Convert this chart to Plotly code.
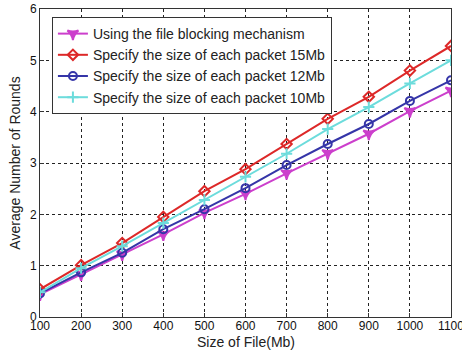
import plotly.graph_objects as go

x = [100, 200, 300, 400, 500, 600, 700, 800, 900, 1000, 1100]
blocking = [0.44, 0.83, 1.22, 1.61, 2.03, 2.40, 2.80, 3.19, 3.57, 4.01, 4.41]
pkt15 = [0.54, 1.01, 1.44, 1.95, 2.45, 2.88, 3.37, 3.86, 4.29, 4.80, 5.28]
pkt12 = [0.46, 0.87, 1.25, 1.71, 2.10, 2.51, 2.96, 3.37, 3.76, 4.21, 4.61]
pkt10 = [0.48, 0.95, 1.38, 1.83, 2.28, 2.73, 3.18, 3.66, 4.09, 4.55, 5.00]

names = ["Using the file blocking mechanism",
         "Specify the size of each packet 15Mb",
         "Specify the size of each packet 12Mb",
         "Specify the size of each packet 10Mb"]
series = [blocking, pkt15, pkt12, pkt10]
colors = ["#CC3FCC", "#DD2828", "#3535A8", "#6CDCDC"]
symbols = ["star-triangle-down", "diamond-open", "circle-open", "cross-thin-open"]

fig = go.Figure()
for n, s, c, m in zip(names, series, colors, symbols):
    fig.add_trace(go.Scatter(
        x=x, y=s, name=n, mode="lines+markers",
        line=dict(color=c, width=2),
        marker=dict(symbol=m, size=8, color=c, line=dict(color=c, width=2)),
    ))

FONT = "Arial, Liberation Sans"
axis_common = dict(
    showgrid=True, gridcolor="#222", griddash="dot", gridwidth=1,
    showline=True, linecolor="#333", linewidth=1, mirror=True,
    ticks="inside", ticklen=4, tickcolor="#333",
    zeroline=False, tickfont=dict(family=FONT, size=12, color="#111"),
    ticklabeloverflow="allow",
)
fig.update_xaxes(range=[100, 1100], dtick=100, tick0=100,
                 ticklabelstandoff=-2, automargin=False, **axis_common)
fig.update_yaxes(range=[0, 6], dtick=1, automargin=False,
                 title=dict(text="Average Number of Rounds", standoff=6,
                            font=dict(family=FONT, size=14, color="#222")),
                 **axis_common)
fig.add_annotation(text="Size of File(Mb)", xref="paper", yref="paper",
                   x=0.5, y=-0.081, xanchor="center", yanchor="middle",
                   showarrow=False, font=dict(family=FONT, size=14, color="#222"))
fig.update_layout(
    width=462, height=355,
    margin=dict(l=40, r=11, t=9, b=38),
    plot_bgcolor="white", paper_bgcolor="white",
    font=dict(family=FONT, size=12, color="#222"),
    legend=dict(x=0.029, y=0.974, xanchor="left", yanchor="top",
                bgcolor="white", bordercolor="#333", borderwidth=1,
                font=dict(family=FONT, size=14, color="#222"), tracegroupgap=0, itemwidth=30),
    showlegend=True,
)
# remove the default 8px page margin so the figure sits at the window's corner
fig.write_html("out.html", config={"displayModeBar": False},
               post_script="document.body.style.margin='0px';")
